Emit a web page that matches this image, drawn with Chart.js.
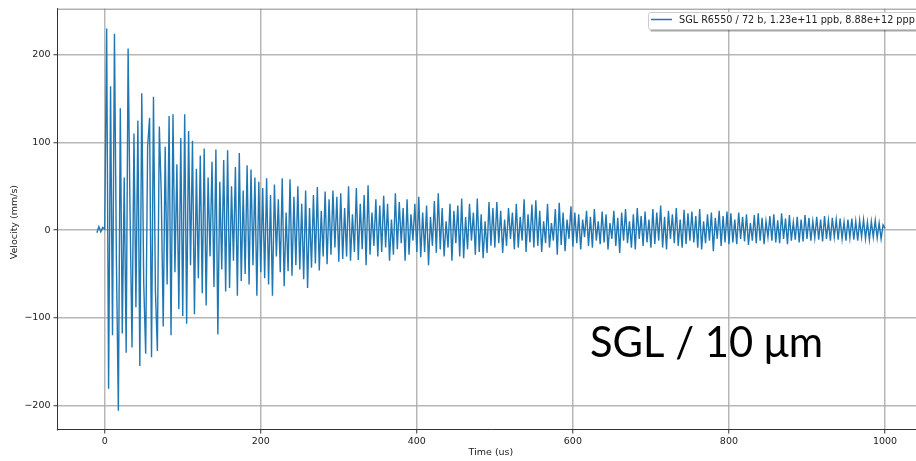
<!DOCTYPE html>
<html>
<head>
<meta charset="utf-8">
<script src="https://cdn.jsdelivr.net/npm/chart.js@4.4.1/dist/chart.umd.min.js"></script>
<style>
  html, body { margin: 0; padding: 0; background: #fff; overflow: hidden; width: 916px; height: 461px; }
  #wrap { position: absolute; left: 0; top: 0; width: 916px; height: 461px; overflow: hidden; }
  #c { position: absolute; left: 0; top: 0; }
</style>
</head>
<body>
<div id="wrap"><canvas id="c" width="930" height="461"></canvas></div>
<script>
// ---- data ----
const seriesLabel = 'SGL R6550 / 72 b, 1.23e+11 ppb, 8.88e+12 ppp';
const annotationText = 'SGL / 10 \u03bcm';
const timeStart = -10;   // us, first sample
const timeStep = 2.5;    // us, sampling interval
const xTicks = [0, 200, 400, 600, 800, 1000];
const yTicks = [-200, -100, 0, 100, 200];
const xTitle = 'Time (us)';
const yTitle = 'Velocity (mm/s)';

// velocity (mm/s), one value per sample, grouped by 50 us
const velPre  = [-3, 4, -2, 3, 1];
const vel0    = [230, -181, 164, -120, 224, -35, -206, 139, -118, 60, -140, 207, 18, -134, 110, -88, 125, -155, 156, -60];
const vel50   = [-141, 95, 128, -145, 152, -70, -138, 118, 40, -110, 95, -62, 130, -120, 132, -48, 75, -90, 105, -98];
const vel100  = [132, -107, 113, -40, 102, -96, 70, -55, 85, -72, 93, -86, 60, -30, 78, -65, 92, -119, 55, -45];
const vel150  = [80, -70, 91, -66, 50, -35, 72, -75, 88, -58, 45, -50, 74, -62, 69, -40, 60, -75, 55, -48];
const vel200  = [48, -55, 59, -62, 40, -75, 52, -30, 35, -48, 59, -64, 20, -47, 58, -52, 38, -40, 50, -45];
const vel250  = [30, -56, 45, -66, 25, -43, 40, -38, 49, -46, 22, -30, 44, -39, 35, -28, 45, -20, 38, -36];
const vel300  = [42, -33, 25, -30, 50, -35, 18, -25, 48, -34, 30, -22, 40, -40, 51, -28, 20, -18, 35, -30];
const vel350  = [28, -25, 39, -20, 30, -35, 12, -28, 42, -22, 32, -15, 25, -35, 35, -28, 18, -12, 30, -25];
const vel400  = [38, -31, 20, -25, 28, -40, 15, -18, 33, -26, 42, -22, 25, -30, 10, -20, 30, -35, 22, -15];
const vel450  = [28, -30, 36, -32, 15, -22, 30, -12, 20, -28, 36, -25, 18, -32, 10, -26, 32, -18, 25, -20];
const vel500  = [32, -15, 22, -26, 12, -18, 25, -10, 20, -22, 30, -20, 15, -12, 35, -25, 18, -14, 29, -20];
const vel550  = [34, -18, 22, -25, 10, -15, 30, -20, 8, -12, 24, -28, 31, -17, 20, -24, 12, -10, 27, -19];
const vel600  = [20, -15, 18, -22, 12, -8, 22, -18, 15, -20, 24, -12, 10, -16, 21, -14, 18, -22, 8, -10];
const vel650  = [22, -18, 14, -26, 20, -12, 24, -15, 10, -20, 18, -22, 25, -10, 16, -18, 21, -14, 12, -20];
const vel700  = [24, -16, 20, -12, 28, -20, 15, -22, 22, -10, 18, -15, 25, -18, 12, -20, 23, -16, 19, -12];
const vel750  = [21, -14, 16, -20, 24, -22, 10, -15, 18, -12, 20, -24, 14, -10, 22, -18, 16, -14, 21, -16];
const vel800  = [19, -14, 12, -16, 20, -10, 15, -13, 18, -17, 8, -12, 17, -15, 19, -12, 14, -16, 10, -8];
const vel850  = [16, -12, 18, -14, 11, -15, 19, -10, 13, -16, 17, -12, 9, -11, 15, -14, 12, -13, 17, -10];
const vel900  = [14, -12, 10, -9, 15, -11, 12, -13, 16, -10, 11, -12, 14, -8, 12, -11, 13, -10, 9, -12];
const vel950  = [12, -9, 13, -11, 10, -12, 11, -8, 12, -10, 9, -11, 10, -8, 11, -9, 8, -10, 6, 2];

const velocity = [].concat(velPre, vel0, vel50, vel100, vel150, vel200, vel250, vel300, vel350,
  vel400, vel450, vel500, vel550, vel600, vel650, vel700, vel750, vel800, vel850, vel900, vel950);
const points = velocity.map((v, i) => ({ x: timeStart + i * timeStep, y: v }));

// ---- styling ----
const BLUE = '#1f77b4';
const TICK_FONT = { family: 'DejaVu Sans', size: 9.5 };
const GRID = 'rgba(170,170,170,0.85)';

const decor = {
  id: 'decor',
  afterDraw(chart) {
    const ctx = chart.ctx, a = chart.chartArea;
    ctx.save();
    // top spine
    ctx.strokeStyle = '#8a8a8a';
    ctx.lineWidth = 1;
    ctx.beginPath();
    ctx.moveTo(a.left, a.top + 0.5);
    ctx.lineTo(a.right, a.top + 0.5);
    ctx.stroke();

    // axis titles
    ctx.fillStyle = '#222';
    ctx.font = '9.5px "DejaVu Sans"';
    ctx.textAlign = 'center';
    ctx.textBaseline = 'middle';
    ctx.fillText(xTitle, (a.left + a.right) / 2, 453);
    ctx.save();
    ctx.translate(15, (a.top + a.bottom) / 2 + 3);
    ctx.rotate(-Math.PI / 2);
    ctx.fillText(yTitle, 0, 0);
    ctx.restore();

    // legend (runs off the right edge, as in the reference)
    const lx = 648.5, ly = 12.5, lw = 300, lh = 17;
    ctx.fillStyle = 'rgba(0,0,0,0.35)';
    ctx.fillRect(lx + 2, ly + 2, lw, lh);
    ctx.fillStyle = '#fff';
    ctx.beginPath();
    ctx.roundRect(lx, ly, lw, lh, 2);
    ctx.fill();
    ctx.strokeStyle = '#cccccc';
    ctx.lineWidth = 1;
    ctx.stroke();
    ctx.strokeStyle = BLUE;
    ctx.lineWidth = 1.5;
    ctx.beginPath();
    ctx.moveTo(651, ly + 7);
    ctx.lineTo(672, ly + 7);
    ctx.stroke();
    ctx.fillStyle = '#222';
    ctx.textAlign = 'left';
    ctx.textBaseline = 'middle';
    let fs = 10;
    ctx.font = fs + 'px "DejaVu Sans"';
    const w = ctx.measureText(seriesLabel).width;
    fs = fs * 236 / w;
    ctx.font = fs.toFixed(2) + 'px "DejaVu Sans"';
    ctx.fillText(seriesLabel, 679, ly + 8);

    // annotation
    ctx.fillStyle = '#000';
    let af = 44;
    ctx.font = af + 'px Lato';
    const aw = ctx.measureText(annotationText).width;
    af = af * 233 / aw;
    ctx.font = af.toFixed(2) + 'px Lato';
    ctx.textAlign = 'left';
    ctx.textBaseline = 'alphabetic';
    ctx.fillText(annotationText, 590, 357);
    ctx.restore();
  }
};

new Chart(document.getElementById('c'), {
  type: 'line',
  data: {
    datasets: [{
      label: seriesLabel,
      data: points,
      borderColor: BLUE,
      backgroundColor: BLUE,
      borderWidth: 1.4,
      pointRadius: 0,
      tension: 0,
      fill: false
    }]
  },
  options: {
    responsive: false,
    animation: false,
    devicePixelRatio: 1,
    layout: { padding: { top: 7, right: 5.6, left: 0, bottom: 0 } },
    plugins: { legend: { display: false }, tooltip: { enabled: false } },
    scales: {
      x: {
        type: 'linear',
        min: -60.5,
        max: 1050.5,
        afterBuildTicks: s => { s.ticks = xTicks.map(v => ({ value: v })); },
        afterFit: s => { s.height = 31.5; },
        grid: { color: GRID, lineWidth: 1.5, tickLength: 4, tickColor: '#333', tickWidth: 1 },
        border: { display: true, color: '#333', width: 1 },
        ticks: { font: TICK_FONT, color: '#222', padding: 2, maxRotation: 0,
                 callback: v => String(v) },
        title: { display: false }
      },
      y: {
        type: 'linear',
        min: -227.5,
        max: 252.5,
        afterBuildTicks: s => { s.ticks = yTicks.map(v => ({ value: v })); },
        afterFit: s => { s.width = 57.5; },
        grid: { color: GRID, lineWidth: 1.5, tickLength: 4, tickColor: '#333', tickWidth: 1 },
        border: { display: true, color: '#333', width: 1 },
        ticks: { font: TICK_FONT, color: '#222', padding: 3,
                 callback: v => (v < 0 ? '\u2212' + Math.abs(v) : String(v)) },
        title: { display: false }
      }
    }
  },
  plugins: [decor]
});
</script>
</body>
</html>
